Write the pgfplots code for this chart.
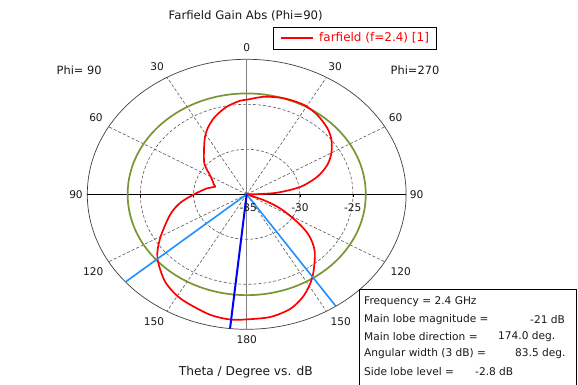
\documentclass[border=0pt]{standalone}
\usepackage{pgfplots}
\pgfplotsset{compat=1.18}
\usepackage{pgfplotstable}
\usepackage{fontspec}
\setmainfont{DejaVu Sans}

% clockwise angle from top (deg), gain (dB); right half = Phi 270, left half = Phi 90
\pgfplotstableread{
a     db
0     -24.50
8.6   -24.04
18.2  -23.77
28.6  -23.70
37    -23.96
46    -24.44
52.9  -25.00
60.2  -25.82
66.8  -26.75
73.6  -28.07
80.6  -29.84
86.4  -32.12
90    -34.30
100   -35.00
112   -33.25
116.6 -31.43
122.9 -29.33
127.9 -27.58
135   -25.94
146   -23.93
154.3 -22.55
162   -21.64
170.6 -21.19
180   -21.10
186   -21.00
192   -21.10
197.4 -21.33
208.5 -21.86
218.4 -22.63
229.8 -24.00
239   -25.49
252.4 -27.43
261.3 -28.66
270   -30.05
280   -31.20
285.7 -31.90
289   -31.75
300   -31.10
310.2 -29.80
320.8 -28.64
328.5 -27.50
334.3 -26.68
340.9 -25.88
349.1 -25.09
356.5 -24.59
360   -24.50
}\gain

\definecolor{lobe}{RGB}{30,144,255}
\definecolor{olive3}{RGB}{120,150,50}
\definecolor{gridc}{RGB}{90,90,90}

\begin{document}
\begin{tikzpicture}[x=1pt,y=1pt]
\path[fill=white,use as bounding box] (0,0) rectangle (578,385);
\def\cx{246.7}\def\cy{190.7}\def\rx{159.4}\def\ry{135}

% dashed rings and spokes
\draw[gridc,densely dashed,line width=0.6pt] (\cx,\cy) ellipse [x radius=\rx/3, y radius=\ry/3];
\draw[gridc,densely dashed,line width=0.6pt] (\cx,\cy) ellipse [x radius=2*\rx/3, y radius=2*\ry/3];
\foreach \a in {30,60,120,150,210,240,300,330}
  \draw[gridc,densely dashed,line width=0.6pt] (\cx,\cy) -- ({\cx+\rx*sin(\a)},{\cy+\ry*cos(\a)});
\draw[black!75,line width=0.7pt] (\cx,\cy) ellipse [x radius=\rx, y radius=\ry];
\draw[gray,line width=1pt] (\cx,\cy+\ry) -- (\cx,\cy-\ry);
\draw[black,line width=0.8pt] (\cx-\rx,\cy) -- (\cx+\rx,\cy);
\foreach \k in {-2,-1,1,2}
  \draw[black,line width=0.6pt] ({\cx+\k*\rx/3},\cy) -- ({\cx+\k*\rx/3},\cy-3);
% 3 dB level
\draw[olive3,line width=1.7pt] (\cx,\cy) ellipse [x radius=0.747*\rx, y radius=0.747*\ry];

\begin{axis}[at={(246.7pt,190.7pt)}, anchor=origin,
  x=159.4pt, y=135pt, xmin=-1, xmax=1, ymin=-1, ymax=1,
  hide axis, clip=false]
\addplot[red, line width=1.7pt, no markers, smooth]
  table[x expr={max(0,(\thisrow{db}+35)/15)*sin(\thisrow{a})},
        y expr={max(0,(\thisrow{db}+35)/15)*cos(\thisrow{a})}] {\gain};
\addplot[lobe, line width=1.6pt, no markers] coordinates {(0,0) (0.5592,-0.8290)};
\addplot[lobe, line width=1.6pt, no markers] coordinates {(0,0) (-0.7604,-0.6494)};
\addplot[blue, line width=2pt, no markers] coordinates {(0,0) (-0.1045,-0.9945)};
\end{axis}

% angle labels
\begin{scope}[every node/.style={font=\fontsize{10.6}{12}\selectfont, text=black!90}]
\node at (246.7,337) {0};
\node at (157,318.3) {30};   \node at (335,318.3) {30};
\node at (96,267.3) {60};    \node at (395.7,267.3) {60};
\node at (76,190) {90};      \node at (416.7,190) {90};
\node at (93.3,113.7) {120}; \node at (400.7,113.7) {120};
\node at (154,63.7) {150};   \node at (340.7,63.7) {150};
\node at (246.7,45) {180};
\node at (248.3,177.7) {-35};
\node at (300,177.7) {-30};
\node at (352.8,177.7) {-25};
\end{scope}

\node[font=\fontsize{11.4}{13}\selectfont, text=black!90] at (79.2,314.3) {Phi= 90};
\node[font=\fontsize{11.4}{13}\selectfont, text=black!90] at (415,314.3) {Phi=270};
\node[font=\fontsize{11.7}{14}\selectfont, text=black!90] at (245.7,369) {Farfield Gain Abs (Phi=90)};
\node[font=\fontsize{12.2}{14}\selectfont, text=black!90] at (245.8,13.3) {Theta / Degree vs. dB};

% legend
\draw[black,line width=1pt,fill=white] (273,357.7) rectangle (436,335.7);
\draw[red,line width=1.7pt] (280.7,347.3) -- (313.3,347.3);
\node[anchor=west,inner sep=0pt,text=red,font=\fontsize{12}{14}\selectfont] at (319,347.3) {farfield (f=2.4) [1]};

% info box
\draw[black,line width=1pt,fill=white] (359,95) rectangle (576,-3);
\begin{scope}[every node/.style={anchor=west,inner sep=0pt,text=black!90,font=\fontsize{10.6}{12}\selectfont}]
\node at (364,83.3) {Frequency = 2.4 GHz};
\node at (364,65.3) {Main lobe magnitude =};   \node at (530,65.3) {-21 dB};
\node at (364,48)   {Main lobe direction =};   \node at (498,48) {174.0 deg.};
\node at (364,31)   {Angular width (3 dB) =};  \node at (515,31) {83.5 deg.};
\node at (364,13.7) {Side lobe level =};       \node at (475,13.7) {-2.8 dB};
\end{scope}
\end{tikzpicture}
\end{document}
